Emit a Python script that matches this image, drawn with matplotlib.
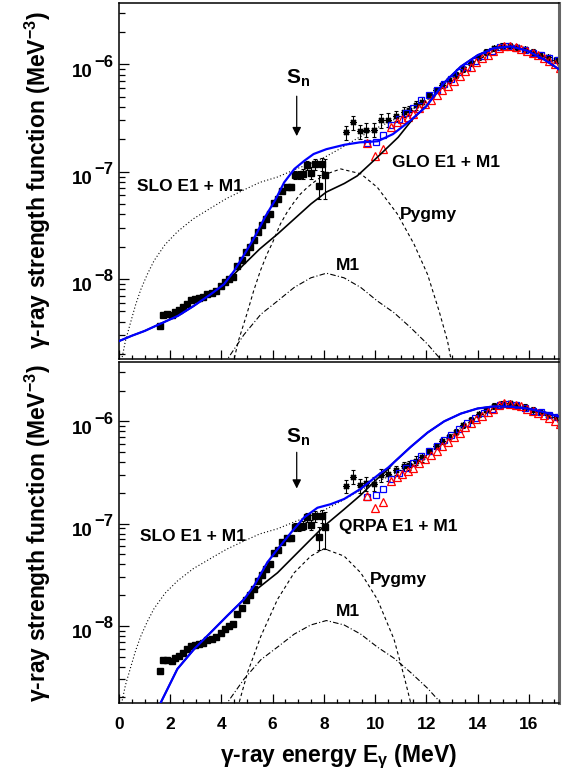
import numpy as np
import matplotlib
matplotlib.use("Agg")
import matplotlib.pyplot as plt
from matplotlib.ticker import MultipleLocator, LogLocator, NullFormatter

# Fonte proche du Helvetica gras de ROOT
plt.rcParams["font.family"] = ["Liberation Sans", "DejaVu Sans"]
plt.rcParams["font.weight"] = "bold"
plt.rcParams["mathtext.fontset"] = "custom"
plt.rcParams["mathtext.rm"] = "Liberation Sans:bold"
plt.rcParams["mathtext.it"] = "Liberation Sans:bold"
plt.rcParams["mathtext.bf"] = "Liberation Sans:bold"
plt.rcParams["mathtext.default"] = "rm"

# Données Oslo (carrés noirs pleins)
oslo_e = [1.60, 1.72, 1.89, 2.06, 2.19, 2.35, 2.51, 2.67, 2.83, 2.97, 3.13, 3.28, 3.45, 3.62,
          3.78, 3.97, 4.14, 4.30, 4.47, 4.62, 4.79, 4.95, 5.12, 5.28, 5.44, 5.60, 5.76, 5.90,
          6.06, 6.21, 6.38, 6.55, 6.71, 6.88, 7.03, 7.20, 7.36, 7.49, 7.64, 7.81, 7.94, 8.03]
oslo_f = [3.63e-9, 4.61e-9, 4.68e-9, 4.57e-9, 4.90e-9, 5.13e-9, 5.50e-9, 5.89e-9, 6.31e-9,
          6.46e-9, 6.61e-9, 6.76e-9, 7.24e-9, 7.41e-9, 7.76e-9, 8.51e-9, 9.33e-9, 1.00e-8,
          1.05e-8, 1.32e-8, 1.51e-8, 1.78e-8, 2.00e-8, 2.29e-8, 2.75e-8, 3.16e-8, 3.63e-8,
          4.07e-8, 5.13e-8, 5.50e-8, 6.61e-8, 7.24e-8, 7.24e-8, 9.33e-8, 9.33e-8, 9.55e-8,
          1.15e-7, 9.77e-8, 1.18e-7, 7.41e-8, 1.18e-7, 9.33e-8]
oslo_rel = [0.04] * 32 + [0.06, 0.09, 0.09, 0.10, 0.10, 0.12, 0.12, 0.25, 0.14, 0.40]

# Étoiles noires avec barres d'erreur
star_e = [8.86, 9.14, 9.41, 9.66, 9.94, 10.22, 10.51, 10.81, 11.11, 11.33, 11.59, 11.85, 12.11,
          12.37, 12.63, 12.89, 13.15, 13.45, 13.75, 14.05, 14.35, 14.65, 14.95, 15.25, 15.55,
          15.85, 16.15, 16.45, 16.75, 17.05]
star_f = [2.33e-7, 2.88e-7, 2.37e-7, 2.47e-7, 2.46e-7, 3.00e-7, 3.04e-7, 3.33e-7, 3.63e-7,
          3.72e-7, 4.14e-7, 4.47e-7, 5.13e-7, 5.72e-7, 6.37e-7, 7.08e-7, 7.94e-7, 9.12e-7,
          1.035e-6, 1.175e-6, 1.30e-6, 1.41e-6, 1.48e-6, 1.50e-6, 1.445e-6, 1.38e-6, 1.30e-6,
          1.23e-6, 1.16e-6, 1.10e-6]
star_rel = [0.15] * 7 + [0.10] * 5 + [0.06] * 18

# Carrés bleus ouverts
sq_e = [9.70, 10.03, 10.31, 10.64, 10.94, 11.20, 11.50, 11.81, 12.11, 12.41, 12.70, 12.98,
        13.28, 13.60, 13.92, 14.24, 14.56, 14.88, 15.20, 15.52, 15.84, 16.16, 16.48, 16.80, 17.15]
sq_f = [1.84e-7, 1.91e-7, 2.20e-7, 2.75e-7, 3.11e-7, 3.51e-7, 3.94e-7, 4.61e-7, 5.13e-7,
        5.79e-7, 6.61e-7, 7.35e-7, 8.41e-7, 9.55e-7, 1.084e-6, 1.20e-6, 1.33e-6, 1.445e-6,
        1.48e-6, 1.43e-6, 1.35e-6, 1.27e-6, 1.22e-6, 1.15e-6, 1.10e-6]

# Triangles rouges ouverts
tri_e = [9.70, 9.99, 10.29, 10.64, 10.87, 11.07, 11.29, 11.50, 11.72, 11.95, 12.18, 12.41,
         12.63, 12.85, 13.09, 13.30, 13.52, 13.74, 13.96, 14.18, 14.40, 14.62, 14.84, 15.05,
         15.27, 15.49, 15.71, 15.93, 16.15, 16.37, 16.59, 16.81, 17.03, 17.22]
tri_f = [1.86e-7, 1.41e-7, 1.62e-7, 2.59e-7, 2.88e-7, 3.09e-7, 3.24e-7, 3.47e-7, 3.89e-7,
         4.27e-7, 4.68e-7, 5.13e-7, 5.75e-7, 6.31e-7, 7.00e-7, 7.76e-7, 8.71e-7, 9.55e-7,
         1.047e-6, 1.135e-6, 1.23e-6, 1.334e-6, 1.43e-6, 1.50e-6, 1.48e-6, 1.445e-6, 1.40e-6,
         1.334e-6, 1.274e-6, 1.216e-6, 1.148e-6, 1.072e-6, 1.00e-6, 9.33e-7]

# Modèles communs aux deux panneaux : SLO E1 + M1 (pointillé) et M1 (tiret-point)
slo_e = [0.1, 0.25, 0.46, 0.65, 0.85, 1.1, 1.37, 1.8, 2.28, 2.9, 3.58, 4.2, 4.88, 5.5, 6.19,
         6.97, 7.5, 8.0, 8.6, 9.3, 10.0, 10.7, 11.4, 12.05, 12.7, 13.35, 14.0, 14.65, 15.3,
         15.95, 16.6, 17.25]
slo_f = [1.74e-9, 2.63e-9, 3.98e-9, 5.75e-9, 7.94e-9, 1.096e-8, 1.48e-8, 2.09e-8, 2.75e-8,
         3.63e-8, 4.57e-8, 5.62e-8, 6.76e-8, 7.94e-8, 8.91e-8, 1.07e-7, 1.20e-7, 1.35e-7,
         1.62e-7, 2.04e-7, 2.51e-7, 3.02e-7, 3.72e-7, 4.68e-7, 6.46e-7, 8.71e-7, 1.096e-6,
         1.334e-6, 1.46e-6, 1.365e-6, 1.175e-6, 1.00e-6]
m1_e = [4.10, 4.88, 5.54, 6.19, 6.84, 7.49, 8.10, 8.79, 9.44, 10.09, 10.74, 11.39, 12.05,
        12.56, 12.65]
m1_f = [1.6e-9, 3.02e-9, 4.68e-9, 6.22e-9, 8.32e-9, 1.023e-8, 1.13e-8, 1.023e-8, 8.32e-9,
        6.22e-9, 4.84e-9, 3.51e-9, 2.46e-9, 1.78e-9, 1.6e-9]

# Panneau du haut : GLO
glo_tot_e = [0.0, 0.5, 1.0, 1.6, 2.3, 2.9, 3.6, 4.1, 4.5, 4.9, 5.3, 5.7, 6.1, 6.45, 6.85, 7.25,
             7.6, 8.1, 8.8, 9.4, 10.1, 10.7, 11.4, 12.0, 12.7, 13.35, 14.0, 14.65, 15.3, 15.95,
             16.6, 17.25]
glo_tot_f = [2.63e-9, 2.95e-9, 3.27e-9, 3.80e-9, 4.52e-9, 5.56e-9, 7.24e-9, 8.91e-9, 1.19e-8,
             1.70e-8, 2.46e-8, 3.76e-8, 5.43e-8, 7.94e-8, 1.06e-7, 1.27e-7, 1.46e-7, 1.62e-7,
             1.78e-7, 1.875e-7, 1.92e-7, 2.24e-7, 3.02e-7, 4.07e-7, 6.76e-7, 9.55e-7, 1.216e-6,
             1.42e-6, 1.47e-6, 1.34e-6, 1.11e-6, 8.79e-7]
glo_e = [0.0, 0.5, 1.0, 1.6, 2.3, 2.9, 3.6, 4.1, 4.9, 5.5, 6.2, 6.85, 7.5, 8.1, 8.8, 9.3, 9.8,
         10.2, 10.9, 11.5, 12.0, 12.7, 13.35, 14.0, 14.65, 15.3, 15.95, 16.6, 17.25]
glo_f = [2.63e-9, 2.95e-9, 3.27e-9, 3.80e-9, 4.52e-9, 5.56e-9, 7.24e-9, 8.91e-9, 1.38e-8,
         1.905e-8, 2.63e-8, 3.63e-8, 5.01e-8, 6.46e-8, 7.76e-8, 9.12e-8, 1.175e-7, 1.445e-7,
         2.09e-7, 3.16e-7, 4.07e-7, 6.76e-7, 9.55e-7, 1.216e-6, 1.42e-6, 1.47e-6, 1.34e-6,
         1.11e-6, 8.79e-7]
pyg_top_e = [4.45, 4.66, 4.99, 5.26, 5.52, 5.78, 6.0, 6.30, 6.56, 6.82, 7.08, 7.34, 7.60, 8.0,
             8.66, 9.44, 10.09, 10.87, 11.52, 12.05, 12.5, 12.83, 13.0]
pyg_top_f = [1.6e-9, 2.63e-9, 4.68e-9, 7.76e-9, 1.19e-8, 1.70e-8, 2.19e-8, 3.24e-8, 4.17e-8,
             5.13e-8, 6.17e-8, 7.08e-8, 7.94e-8, 9.33e-8, 1.06e-7, 9.55e-8, 7.13e-8, 4.03e-8,
             2.11e-8, 1.10e-8, 5.01e-9, 2.63e-9, 1.6e-9]

# Panneau du bas : QRPA
qrpa_tot_e = [1.55, 1.63, 2.28, 2.93, 3.58, 4.23, 4.88, 5.27, 5.79, 6.19, 6.71, 7.23, 7.75,
              8.27, 8.79, 9.44, 10.09, 10.5, 10.74, 11.39, 12.05, 12.7, 13.35, 14.0, 14.65,
              15.3, 15.95, 16.6, 17.25]
qrpa_tot_f = [1.585e-9, 1.78e-9, 3.80e-9, 5.93e-9, 8.63e-9, 1.26e-8, 1.82e-8, 2.46e-8, 4.17e-8,
              5.62e-8, 8.13e-8, 1.15e-7, 1.43e-7, 1.55e-7, 1.74e-7, 2.19e-7, 2.95e-7, 3.51e-7,
              3.98e-7, 5.62e-7, 7.76e-7, 1.00e-6, 1.19e-6, 1.334e-6, 1.40e-6, 1.39e-6,
              1.334e-6, 1.23e-6, 1.10e-6]
qrpa_e = [1.55, 1.63, 2.28, 2.93, 3.58, 4.23, 4.88, 5.54, 6.19, 6.84, 7.49, 8.01, 8.79, 9.44,
          10.09, 10.5, 10.74, 11.39, 12.05, 12.7, 13.35, 14.0, 14.65, 15.3, 15.95, 16.6, 17.25]
qrpa_f = [1.585e-9, 1.78e-9, 3.80e-9, 5.93e-9, 8.63e-9, 1.26e-8, 1.82e-8, 2.46e-8, 3.31e-8,
          4.82e-8, 7.02e-8, 9.46e-8, 1.38e-7, 1.905e-7, 2.75e-7, 3.39e-7, 3.98e-7, 5.62e-7,
          7.76e-7, 1.00e-6, 1.19e-6, 1.334e-6, 1.40e-6, 1.39e-6, 1.334e-6, 1.23e-6, 1.10e-6]
pyg_bot_e = [4.6, 4.69, 5.02, 5.54, 6.19, 6.84, 7.49, 8.01, 8.79, 9.44, 10.09, 10.74, 11.13,
             11.39, 11.45]
pyg_bot_f = [1.6e-9, 1.78e-9, 3.51e-9, 7.94e-9, 1.82e-8, 3.31e-8, 4.82e-8, 5.69e-8, 4.82e-8,
             3.31e-8, 1.82e-8, 7.41e-9, 3.24e-9, 1.78e-9, 1.6e-9]

decades = [-6, -7, -8]

S_N = 6.94
XMAX = 17.2
YLIM = (1.78e-9, 3.76e-6)
BLUE = "#0000ff"
RED = "#ff0000"
PX = 0.72  # 1 pixel en points (dpi 100)


def draw_panel(ax, tot_e, tot_f, e1_e, e1_f, pyg_e, pyg_f, labels, sn_pos, arrow_y,
               show_xlabels):
    # points expérimentaux
    ax.errorbar(oslo_e, oslo_f, yerr=np.array(oslo_rel) * np.array(oslo_f), fmt="s",
                color="black", ms=4.2, elinewidth=0.8, capsize=1.5, capthick=0.8, zorder=2)
    ax.errorbar(star_e, star_f, yerr=np.array(star_rel) * np.array(star_f), fmt="none",
                ecolor="black", elinewidth=0.8, capsize=1.5, capthick=0.8, zorder=2)
    ax.plot(star_e, star_f, ls="none", marker=(8, 2, 0), color="black", ms=5, mew=0.9, zorder=2)
    ax.plot(sq_e, sq_f, ls="none", marker="s", mfc="none", mec=BLUE, ms=4.8, mew=0.9, zorder=2)
    ax.plot(tri_e, tri_f, ls="none", marker="^", mfc="none", mec=RED, ms=5.2, mew=0.9, zorder=2)

    # modèles
    ax.plot(slo_e, slo_f, color="black", lw=0.8, ls=(0, (1, 2)), zorder=3)
    ax.plot(m1_e, m1_f, color="black", lw=0.8, ls=(0, (5, 2, 1, 2)), zorder=3)
    ax.plot(pyg_e, pyg_f, color="black", lw=0.8, ls=(0, (3, 2.5)), zorder=3)
    ax.plot(e1_e, e1_f, color="black", lw=1.2, zorder=3)
    ax.plot(tot_e, tot_f, color=BLUE, lw=1.6, zorder=4)

    for txt, x, y in labels:
        ax.text(x, y, txt, fontsize=12.5, fontweight="bold", ha="left", va="baseline")

    # énergie de séparation neutron
    ax.text(sn_pos[0], sn_pos[1], r"S$_{n}$", fontsize=15, fontweight="bold",
            ha="left", va="baseline")
    ax.annotate("", xy=(S_N, arrow_y[1]), xytext=(S_N, arrow_y[0]),
                arrowprops=dict(arrowstyle="-|>", color="black", lw=0.9, mutation_scale=13))

    ax.set_yscale("log")
    ax.set_xlim(0, XMAX)
    ax.set_ylim(*YLIM)
    ax.xaxis.set_major_locator(MultipleLocator(2))
    ax.xaxis.set_minor_locator(MultipleLocator(0.5))
    ax.yaxis.set_major_locator(LogLocator(base=10, numticks=20))
    ax.yaxis.set_minor_locator(LogLocator(base=10, subs=np.arange(2, 10), numticks=20))
    ax.yaxis.set_minor_formatter(NullFormatter())
    ax.tick_params(axis="both", which="both", direction="in", top=False, right=False,
                   labelsize=12.5)
    ax.tick_params(axis="x", which="major", length=6.3, width=0.9, pad=10.5)
    ax.tick_params(axis="x", which="minor", length=3.1, width=0.9)
    ax.tick_params(axis="y", which="major", length=7, width=0.9, labelleft=False)
    ax.tick_params(axis="y", which="minor", length=4.5, width=0.9)
    if not show_xlabels:
        ax.tick_params(axis="x", labelbottom=False)

    # étiquettes de l'axe y à la manière de ROOT : "10" décalé vers le bas, exposant large
    ytrans = ax.get_yaxis_transform()
    for d in decades:
        ax.annotate("10", xy=(0, 10.0 ** d), xycoords=ytrans, xytext=(-26 * PX, -12.4 * PX),
                    textcoords="offset points", ha="right", va="baseline", fontsize=13.5,
                    fontweight="bold")
        ax.annotate("\u2212%d" % (-d), xy=(0, 10.0 ** d), xycoords=ytrans,
                    xytext=(-6 * PX, -2.4 * PX), textcoords="offset points", ha="right",
                    va="baseline", fontsize=12, fontweight="bold")

    for side in ["left", "bottom", "top"]:
        ax.spines[side].set_linewidth(1.1)
    ax.spines["right"].set_color("#666666")
    ax.spines["right"].set_linewidth(2.2)


fig = plt.figure(figsize=(5.65, 7.72), dpi=100)
ax_top = fig.add_axes([0.2106, 0.5346, 0.7796, 0.4619])
ax_bot = fig.add_axes([0.2106, 0.0898, 0.7796, 0.4407])

draw_panel(ax_top, glo_tot_e, glo_tot_f, glo_e, glo_f, pyg_top_e, pyg_top_f,
           [("SLO E1 + M1", 0.69, 6.64e-8), ("GLO E1 + M1", 10.66, 1.11e-7),
            ("Pygmy", 10.98, 3.61e-8), ("M1", 8.48, 1.20e-8)],
           (6.53, 6.6e-7), (5.36e-7, 2.02e-7), False)
draw_panel(ax_bot, qrpa_tot_e, qrpa_tot_f, qrpa_e, qrpa_f, pyg_bot_e, pyg_bot_f,
           [("SLO E1 + M1", 0.82, 6.75e-8), ("QRPA E1 + M1", 8.61, 8.45e-8),
            ("Pygmy", 9.78, 2.55e-8), ("M1", 8.48, 1.25e-8)],
           (6.53, 6.24e-7), (5.30e-7, 2.07e-7), True)

ylab = r"γ-ray strength function (MeV$^{-3}$)"
fig.text(38 / 565, 0.767, ylab, rotation=90, ha="center", va="center", fontsize=16.5,
         fontweight="bold")
fig.text(38 / 565, 0.310, ylab, rotation=90, ha="center", va="center", fontsize=16.5,
         fontweight="bold")
fig.text(0.599, 0.020, r"γ-ray energy E$_{\gamma}$ (MeV)", ha="center", va="center",
         fontsize=16.5, fontweight="bold")

fig.savefig("out.png", dpi=100)
